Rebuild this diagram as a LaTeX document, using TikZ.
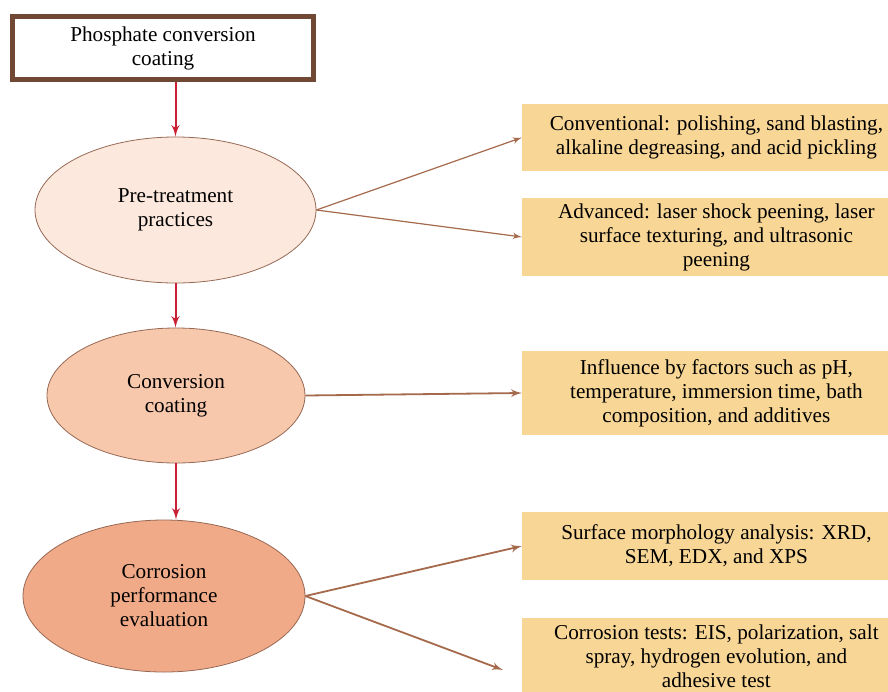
\documentclass[tikz,border=0pt]{standalone}
\usepackage{fontspec}
\setmainfont{Liberation Serif}
\usetikzlibrary{positioning,shapes,arrows,backgrounds,calc}
\definecolor{rimbrown}{RGB}{112,72,52}
\definecolor{ovalrim}{RGB}{150,105,85}
\definecolor{peach1}{RGB}{252,232,220}
\definecolor{peach2}{RGB}{248,200,172}
\definecolor{peach3}{RGB}{241,170,136}
\definecolor{boxsand}{RGB}{248,214,150}
\definecolor{crimson}{RGB}{200,32,52}
\definecolor{arrowbrown}{RGB}{165,105,75}
\tikzstyle{box0} = [rectangle, draw=rimbrown, line width=2.5pt, fill=white, %
   text centered, minimum width=150.5pt, minimum height=31.5pt, align=center]
\tikzstyle{oval} = [ellipse, draw=ovalrim, inner sep=0pt, align=center]
\tikzstyle{box1} = [rectangle, fill=boxsand, anchor=west, inner sep=0pt, %
   minimum width=194pt, align=center]
\tikzstyle{spine} = [draw, line width=1pt, crimson, -latex']
\tikzstyle{line} = [draw, line width=0.9pt, arrowbrown, -latex']

\begin{document}
\begin{tikzpicture}[x=0.5pt, y=-0.5pt, font=\fontsize{10.6}{12}\selectfont]
   \useasboundingbox (0,0) rectangle (888,691);
   \clip (0,0) rectangle (888,691);

   % Place nodes
   % Main spine
   \node[box0] (PCC) at (163,48) {Phosphate conversion\\coating};

   \node[oval, fill=peach1, minimum width=140.5pt, minimum height=73pt]
      (pretreat) at (175.5,210) {Pre-treatment\\practices};

   \node[oval, fill=peach2, minimum width=129pt, minimum height=67.5pt]
      (convcoat) at (176,395.5) {Conversion\\coating};

   \node[oval, fill=peach3, minimum width=141pt, minimum height=76pt]
      (correval) at (164,596) {Corrosion\\performance\\evaluation};

   % Side boxes
   \node[box1, minimum height=33.5pt] (conv) at (522,137.5) {%
      Conventional: polishing, sand blasting,\\alkaline degreasing, and acid pickling};

   \node[box1, minimum height=39pt] (adv) at (522,237) {%
      Advanced: laser shock peening, laser\\surface texturing, and ultrasonic\\peening};

   \node[box1, minimum height=42pt] (factors) at (522,393) {%
      Influence by factors such as pH,\\temperature, immersion time, bath\\composition, and additives};

   \node[box1, minimum height=34pt] (morph) at (522,546) {%
      Surface morphology analysis: XRD,\\SEM, EDX, and XPS};

   \node[box1, minimum height=38pt] (tests) at (522,656) {%
      Corrosion tests: EIS, polarization, salt\\spray, hydrogen evolution, and\\adhesive test};

   \coordinate (testsend) at (503,670);

   % Draw edges
   % Main spine
   \path [spine] (PCC.south -| pretreat.north) -- (pretreat.north);
   \path [spine] (pretreat.south) -- (pretreat.south |- convcoat.north);
   \path [spine] (convcoat.south) -- (convcoat.south |- correval.north);

   % Branches
   \path [line, line width=0.6pt] (pretreat.east) -- (conv.west);
   \path [line, line width=0.6pt] (pretreat.east) -- (adv.west);
   \path [line] (convcoat.east) -- (factors.west);
   \path [line] (correval.east) -- (morph.west);
   \path [line] (correval.east) -- (testsend);

\end{tikzpicture}
\end{document}
